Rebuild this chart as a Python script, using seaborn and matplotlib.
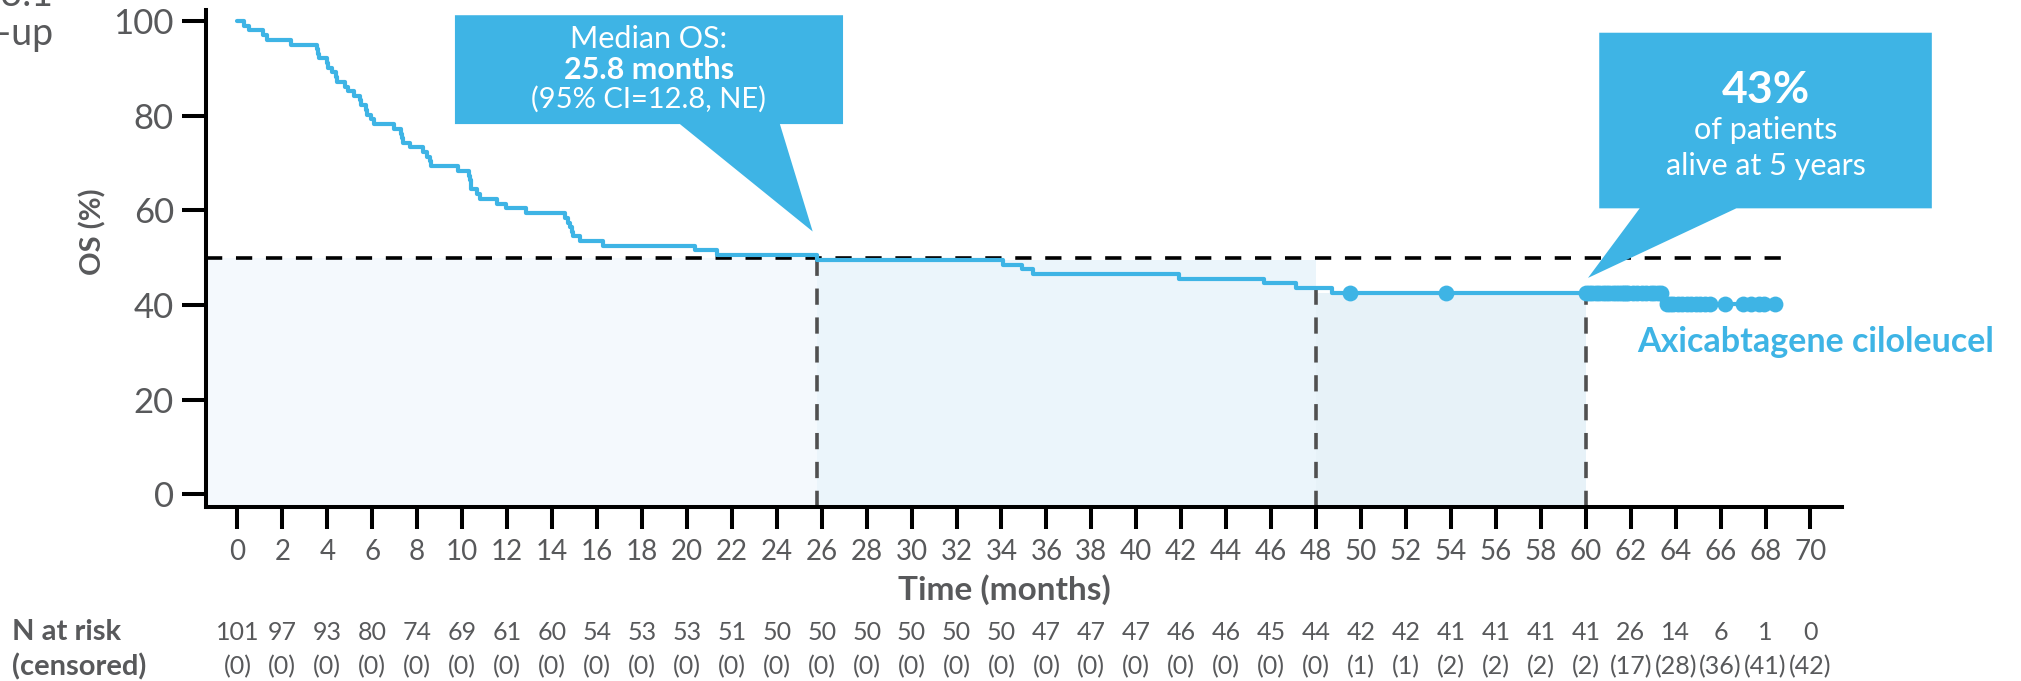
import numpy as np
import pandas as pd
import matplotlib
matplotlib.use("Agg")
import matplotlib.pyplot as plt
import matplotlib.transforms as mtransforms
from matplotlib.patches import Polygon
import seaborn as sns

# KM step curve (time in months, OS %)
km_times = [0, 0.28, 0.53, 1.14, 1.3, 2.4, 3.55, 3.58, 3.62, 4.0, 4.05, 4.2, 4.4, 4.45,
            4.77, 4.93, 5.2, 5.45, 5.5, 5.74, 5.78, 5.96, 6.08, 6.97, 7.27, 7.32, 7.37,
            7.67, 8.26, 8.45, 8.55, 8.63, 9.8, 10.3, 10.35, 10.38, 10.4, 10.64, 10.8,
            11.57, 11.95, 12.86, 14.57, 14.7, 14.8, 14.87, 14.94, 15.24, 16.28, 20.35,
            21.36, 25.8, 34.07, 34.9, 35.4, 41.9, 45.7, 47.1, 48.7, 63.4, 68.4]
km_os = [100.0, 99.0, 98.0, 97.0, 96.0, 95.0, 94.1, 93.1, 92.1, 91.1, 90.1, 89.1, 88.1, 87.1,
         86.1, 85.1, 84.2, 83.2, 82.2, 81.2, 80.2, 79.2, 78.2, 77.2, 76.2, 75.2, 74.3,
         73.3, 72.3, 71.3, 70.3, 69.3, 68.3, 67.3, 66.3, 65.3, 64.4, 63.4, 62.4,
         61.4, 60.4, 59.4, 58.4, 57.4, 56.4, 55.4, 54.5, 53.5, 52.5, 51.5,
         50.5, 49.5, 48.5, 47.5, 46.5, 45.5, 44.6, 43.6, 42.6, 40.1, 40.1]

# censored patients
censor_hi_times = [49.5, 53.8, 60.0, 60.15, 60.3, 60.45, 60.6, 60.75, 60.9, 61.05, 61.2,
                   61.35, 61.5, 61.6, 61.7, 61.8, 61.9, 62.1, 62.3, 62.5, 62.7, 62.9,
                   63.05, 63.2, 63.35]
censor_hi_os = 42.6
censor_lo_times = [63.6, 63.75, 63.9, 64.1, 64.3, 64.5, 64.7, 64.9, 65.1, 65.3, 65.55,
                   66.2, 67.0, 67.35, 67.7, 67.95, 68.4]
censor_lo_os = 40.1

median_os = 25.8
landmark_months = [48, 60]
landmark_os = [43.6, 42.6]

risk_months = list(range(0, 71, 2))
n_at_risk = [101, 97, 93, 80, 74, 69, 61, 60, 54, 53, 53, 51, 50, 50, 50, 50, 50, 50,
             47, 47, 47, 46, 46, 45, 44, 42, 42, 41, 41, 41, 41, 26, 14, 6, 1, 0]
n_censored = [0] * 25 + [1, 1, 2, 2, 2, 2, 17, 28, 36, 41, 42]

blue = "#3eb4e5"
gray = "#58595b"

sns.set_style("ticks")
plt.rcParams["font.family"] = ["Lato", "DejaVu Sans"]

fig = plt.figure(figsize=(20.21, 6.81), dpi=100)
ax = fig.add_axes([0.1019, 0.2555, 0.8095, 0.7298])
xmin, xmax = -1.4, 71.4
ymin, ymax = -2.7, 102.3
ax.set_xlim(xmin, xmax)
ax.set_ylim(ymin, ymax)

# shaded bands
ax.fill_between([xmin, median_os], ymin, 50, color="#f4f9fd", lw=0, zorder=0)
ax.fill_between([median_os, landmark_months[0]], ymin, 49.5, color="#ebf5fb", lw=0, zorder=0)
ax.fill_between(landmark_months, ymin, landmark_os[1], color="#e7f2f8", lw=0, zorder=0)

# reference lines
ax.plot([xmin, 68.8], [50, 50], color="black", lw=2.6, ls=(0, (4.5, 3.8)), zorder=2)
for xm, ym in zip([median_os] + landmark_months, [50] + landmark_os):
    ax.plot([xm, xm], [ymin, ym], color="#505050", lw=2.6, ls=(0, (4.5, 3.5)), zorder=2)

km = pd.DataFrame({"time": km_times, "os": km_os})
sns.lineplot(data=km, x="time", y="os", drawstyle="steps-post", estimator=None,
             sort=False, color=blue, lw=3, ax=ax, zorder=4)

cens = pd.DataFrame({
    "time": censor_hi_times + censor_lo_times,
    "os": [censor_hi_os] * len(censor_hi_times) + [censor_lo_os] * len(censor_lo_times),
})
sns.scatterplot(data=cens, x="time", y="os", color=blue, s=130, linewidth=0,
                ax=ax, zorder=5)

# axes styling
ax.set_xticks(risk_months)
ax.set_yticks([0, 20, 40, 60, 80, 100])
ax.tick_params(axis="x", length=16, width=2.9, pad=7, labelsize=20, labelcolor=gray,
               color="black")
ax.tick_params(axis="y", length=17, width=2.9, pad=6, labelsize=25, labelcolor=gray,
               color="black")
sns.despine(ax=ax)
for sp in ["left", "bottom"]:
    ax.spines[sp].set_linewidth(2.9)
    ax.spines[sp].set_color("black")

ax.set_xlabel("Time (months)", fontsize=24, fontweight="bold", color=gray, va="center")
ax.xaxis.set_label_coords(0.488, -0.167)
ax.set_ylabel("OS (%)", fontsize=21, fontweight="bold", color=gray, ha="center", va="center")
ax.yaxis.set_label_coords(-0.069, 0.553)

# callout: median OS
box1 = [(9.68, 101.2), (26.95, 101.2), (26.95, 78.2), (24.14, 78.2), (25.6, 55.5),
        (19.69, 78.2), (9.68, 78.2)]
ax.add_patch(Polygon(box1, closed=True, fc=blue, ec="none", clip_on=False, zorder=6))
ax.text(18.3, 94.2, "Median OS:", ha="center", va="baseline", fontsize=22,
        color="white", zorder=7)
ax.text(18.3, 87.8, "25.8 months", ha="center", va="baseline", fontsize=22,
        fontweight="bold", color="white", zorder=7)
ax.text(18.3, 81.7, "(95% CI=12.8, NE)", ha="center", va="baseline", fontsize=21,
        color="white", zorder=7)

# callout: 5-year OS
box2 = [(60.6, 97.5), (75.4, 97.5), (75.4, 60.4), (66.7, 60.4), (60.1, 45.7),
        (62.4, 60.4), (60.6, 60.4)]
ax.add_patch(Polygon(box2, closed=True, fc=blue, ec="none", clip_on=False, zorder=6))
ax.text(68.0, 82.7, "43%", ha="center", va="baseline", fontsize=32,
        fontweight="bold", color="white", zorder=7)
ax.text(68.0, 75.0, "of patients", ha="center", va="baseline", fontsize=22,
        color="white", zorder=7)
ax.text(68.0, 67.4, "alive at 5 years", ha="center", va="baseline", fontsize=22,
        color="white", zorder=7)

ax.text(62.3, 32.2, "Axicabtagene ciloleucel", ha="left", va="center", fontsize=24.5,
        fontweight="bold", color=blue, clip_on=False)

# cropped header at top left
fig.text(53 / 2021, 1 - 6 / 681, "Median 63.1", ha="right", va="baseline",
         fontsize=27, color=gray)
fig.text(53 / 2021, 1 - 45 / 681, "follow-up", ha="right", va="baseline",
         fontsize=27, color=gray)

# risk table
trans = mtransforms.blended_transform_factory(ax.transData, fig.transFigure)
row1_y = 1 - 632 / 681
row2_y = 1 - 667 / 681
for m, n, c in zip(risk_months, n_at_risk, n_censored):
    ax.text(m, row1_y, str(n), ha="center", va="center", fontsize=18, color=gray,
            transform=trans)
    ax.text(m, row2_y, f"({c})", ha="center", va="center", fontsize=18, color=gray,
            transform=trans)
fig.text(12 / 2021, row1_y, "N at risk", ha="left", va="center", fontsize=21,
         fontweight="bold", color=gray)
fig.text(12 / 2021, row2_y, "(censored)", ha="left", va="center", fontsize=21,
         fontweight="bold", color=gray)

fig.savefig("out.png", dpi=100)
